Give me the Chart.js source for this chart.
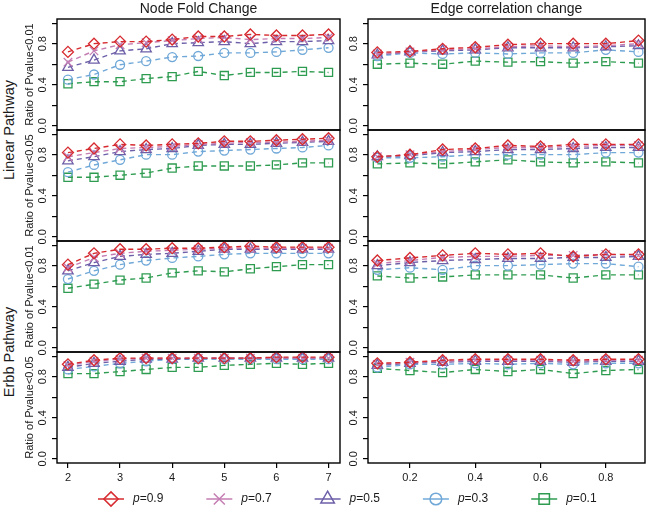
<!DOCTYPE html>
<html>
<head>
<meta charset="utf-8">
<script src="https://cdn.jsdelivr.net/npm/chart.js@4/dist/chart.umd.min.js"></script>
<style>
  body { margin: 0; background: #fff; }
  #wrap { position: relative; width: 650px; height: 508px; overflow: hidden;
          font-family: "Liberation Sans", Arial, sans-serif; color: #1a1a1a; }
  #wrap canvas { position: absolute; }
  .lbl { position: absolute; white-space: nowrap; line-height: 1; transform: translate(-50%, -50%); }
  .rot { transform: translate(-50%, -50%) rotate(-90deg); }
</style>
</head>
<body>
<div id="wrap"></div>
<script>
// x positions
const foldX = [2, 2.5, 3, 3.5, 4, 4.5, 5, 5.5, 6, 6.5, 7];
const corrX = [0.1, 0.2, 0.3, 0.4, 0.5, 0.6, 0.7, 0.8, 0.9];

// series names (p = 0.9, 0.7, 0.5, 0.3, 0.1)
const seriesNames = ['p=0.9', 'p=0.7', 'p=0.5', 'p=0.3', 'p=0.1'];

// tick labels
const foldTicks = [2, 3, 4, 5, 6, 7];
const foldTickLabels = ['2', '3', '4', '5', '6', '7'];
const corrTicks = [0.2, 0.4, 0.6, 0.8];
const corrTickLabels = ['0.2', '0.4', '0.6', '0.8'];
const yTicks = [0, 0.2, 0.4, 0.6, 0.8, 1.0];
const yTickLabels = ['0.0', '', '0.4', '', '0.8', ''];

const colTitles = ['Node Fold Change', 'Edge correlation change'];
const groupLabels = ['Linear Pathway', 'Erbb Pathway'];
const rowYLabels = ['Ratio of Pvalue<0.01', 'Ratio of Pvalue<0.05', 'Ratio of Pvalue<0.01', 'Ratio of Pvalue<0.05'];

// Linear pathway, Pvalue<0.01
const linearNode01 = [
  [0.72, 0.80, 0.82, 0.82, 0.84, 0.87, 0.87, 0.89, 0.88, 0.88, 0.89],
  [0.62, 0.73, 0.79, 0.81, 0.83, 0.85, 0.86, 0.84, 0.85, 0.85, 0.86],
  [0.57, 0.64, 0.73, 0.75, 0.80, 0.81, 0.82, 0.80, 0.82, 0.82, 0.83],
  [0.45, 0.50, 0.595, 0.63, 0.67, 0.68, 0.71, 0.71, 0.72, 0.74, 0.76],
  [0.41, 0.43, 0.43, 0.46, 0.48, 0.53, 0.49, 0.52, 0.52, 0.53, 0.52]
];
const linearEdge01 = [
  [0.715, 0.725, 0.75, 0.765, 0.79, 0.80, 0.80, 0.80, 0.83],
  [0.70, 0.72, 0.74, 0.75, 0.77, 0.78, 0.77, 0.78, 0.80],
  [0.69, 0.72, 0.73, 0.74, 0.76, 0.76, 0.76, 0.77, 0.78],
  [0.68, 0.71, 0.70, 0.71, 0.70, 0.71, 0.71, 0.74, 0.72],
  [0.60, 0.61, 0.60, 0.63, 0.62, 0.625, 0.61, 0.625, 0.61]
];
// Linear pathway, Pvalue<0.05
const linearNode05 = [
  [0.82, 0.86, 0.90, 0.89, 0.90, 0.91, 0.93, 0.93, 0.94, 0.95, 0.96],
  [0.78, 0.82, 0.86, 0.87, 0.88, 0.90, 0.91, 0.92, 0.92, 0.93, 0.94],
  [0.74, 0.78, 0.83, 0.85, 0.86, 0.89, 0.90, 0.90, 0.91, 0.92, 0.93],
  [0.63, 0.70, 0.75, 0.80, 0.80, 0.83, 0.84, 0.85, 0.86, 0.87, 0.89],
  [0.58, 0.58, 0.60, 0.62, 0.67, 0.69, 0.69, 0.69, 0.70, 0.72, 0.72]
];
const linearEdge05 = [
  [0.78, 0.80, 0.85, 0.86, 0.89, 0.88, 0.90, 0.90, 0.90],
  [0.78, 0.80, 0.83, 0.85, 0.87, 0.87, 0.88, 0.89, 0.89],
  [0.78, 0.79, 0.82, 0.83, 0.85, 0.85, 0.86, 0.87, 0.87],
  [0.77, 0.77, 0.78, 0.80, 0.80, 0.80, 0.80, 0.82, 0.82],
  [0.71, 0.72, 0.71, 0.73, 0.75, 0.73, 0.72, 0.73, 0.72]
];
// Erbb pathway, Pvalue<0.01
const erbbNode01 = [
  [0.81, 0.92, 0.96, 0.96, 0.97, 0.97, 0.98, 0.99, 0.98, 0.98, 0.98],
  [0.78, 0.88, 0.92, 0.94, 0.95, 0.96, 0.97, 0.97, 0.97, 0.97, 0.97],
  [0.75, 0.83, 0.89, 0.91, 0.92, 0.94, 0.96, 0.96, 0.96, 0.96, 0.96],
  [0.67, 0.75, 0.81, 0.85, 0.875, 0.89, 0.91, 0.92, 0.92, 0.92, 0.92],
  [0.58, 0.62, 0.66, 0.68, 0.73, 0.75, 0.74, 0.77, 0.79, 0.81, 0.81]
];
const erbbEdge01 = [
  [0.85, 0.875, 0.90, 0.92, 0.91, 0.92, 0.89, 0.91, 0.91],
  [0.82, 0.85, 0.88, 0.89, 0.89, 0.90, 0.90, 0.91, 0.90],
  [0.80, 0.83, 0.85, 0.86, 0.87, 0.87, 0.88, 0.88, 0.89],
  [0.76, 0.78, 0.76, 0.80, 0.80, 0.81, 0.82, 0.82, 0.79],
  [0.70, 0.68, 0.69, 0.71, 0.71, 0.71, 0.68, 0.71, 0.71]
];
// Erbb pathway, Pvalue<0.05
const erbbNode05 = [
  [0.92, 0.96, 0.98, 0.98, 0.98, 0.98, 0.98, 0.98, 0.99, 0.99, 0.99],
  [0.91, 0.95, 0.97, 0.98, 0.98, 0.98, 0.98, 0.98, 0.98, 0.98, 0.98],
  [0.89, 0.93, 0.95, 0.97, 0.97, 0.98, 0.98, 0.98, 0.98, 0.98, 0.98],
  [0.87, 0.90, 0.93, 0.95, 0.97, 0.97, 0.97, 0.97, 0.97, 0.97, 0.97],
  [0.83, 0.83, 0.85, 0.87, 0.89, 0.89, 0.91, 0.92, 0.93, 0.92, 0.93]
];
const erbbEdge05 = [
  [0.93, 0.94, 0.96, 0.97, 0.97, 0.97, 0.96, 0.97, 0.97],
  [0.92, 0.94, 0.95, 0.96, 0.96, 0.96, 0.95, 0.96, 0.96],
  [0.91, 0.93, 0.94, 0.95, 0.95, 0.95, 0.94, 0.95, 0.95],
  [0.89, 0.92, 0.92, 0.93, 0.92, 0.93, 0.92, 0.93, 0.93],
  [0.88, 0.86, 0.84, 0.87, 0.85, 0.87, 0.83, 0.86, 0.87]
];

// styles
const seriesColors = ['#d62a2f', '#c47db3', '#6d5fa8', '#70a8d8', '#2e9c50'];
const seriesMarkers = ['rectRot', 'crossRot', 'triangle', 'circle', 'rect'];
const markerSizes = [5.5, 6, 6, 4.5, 5.7];

// layout (px)
const COLS = [{ left: 57, right: 340, min: 1.79, max: 7.22 },
              { left: 368, right: 645, min: 0.0714, max: 0.92 }];
const ROW_TOPS = [19, 130, 241, 352];
const ROW_H = 111;
const AXIS_W = 34;
const X_AXIS_H = 26;
const PAD = 8;
const FONT = '"Liberation Sans", Arial, sans-serif';

const wrap = document.getElementById('wrap');

// box round each panel
const boxPlugin = {
  id: 'panelBox',
  afterDraw(chart) {
    const a = chart.chartArea, ctx = chart.ctx;
    ctx.save();
    ctx.strokeStyle = '#000';
    ctx.lineWidth = 1.4;
    ctx.strokeRect(a.left, a.top, a.right - a.left, a.bottom - a.top);
    ctx.restore();
  }
};

// rotated y tick labels, placed with the y scale
const yLabelPlugin = {
  id: 'yTickLabels',
  afterDraw(chart) {
    const s = chart.scales.y, ctx = chart.ctx;
    ctx.save();
    ctx.fillStyle = '#1a1a1a';
    ctx.font = '11px ' + FONT;
    ctx.textAlign = 'center';
    ctx.textBaseline = 'middle';
    yTicks.forEach((v, i) => {
      if (!yTickLabels[i]) return;
      ctx.save();
      ctx.translate(s.right - 14, s.getPixelForValue(v));
      ctx.rotate(-Math.PI / 2);
      ctx.fillText(yTickLabels[i], 0, 0);
      ctx.restore();
    });
    ctx.restore();
  }
};

function makeDatasets(xs, values) {
  return values.map((vals, i) => ({
    label: seriesNames[i],
    data: xs.map((x, j) => ({ x: x, y: vals[j] })),
    borderColor: seriesColors[i],
    backgroundColor: 'rgba(0,0,0,0)',
    borderWidth: 1.4,
    borderDash: [5, 4],
    pointStyle: seriesMarkers[i],
    pointRadius: markerSizes[i],
    pointBorderWidth: 1.3,
    pointBorderColor: seriesColors[i],
    pointBackgroundColor: 'rgba(0,0,0,0)',
    tension: 0,
    fill: false,
    clip: false
  }));
}

function makePanel(row, col, values) {
  const c = COLS[col];
  const bottomRow = row === 3;
  const xs = col === 0 ? foldX : corrX;
  const ticks = col === 0 ? foldTicks : corrTicks;
  const tickLabels = col === 0 ? foldTickLabels : corrTickLabels;

  const canvas = document.createElement('canvas');
  canvas.width = AXIS_W + (c.right - c.left) + PAD;
  canvas.height = PAD + ROW_H + (bottomRow ? X_AXIS_H : 0) + PAD;
  canvas.style.left = (c.left - AXIS_W) + 'px';
  canvas.style.top = (ROW_TOPS[row] - PAD) + 'px';
  wrap.appendChild(canvas);

  new Chart(canvas, {
    type: 'line',
    data: { datasets: makeDatasets(xs, values) },
    options: {
      responsive: false,
      animation: false,
      events: [],
      layout: { padding: { left: 0, top: PAD, right: PAD, bottom: PAD } },
      plugins: { legend: { display: false }, tooltip: { enabled: false } },
      scales: {
        x: {
          type: 'linear',
          min: c.min,
          max: c.max,
          display: bottomRow,
          position: 'bottom',
          afterBuildTicks: s => { s.ticks = ticks.map(v => ({ value: v })); },
          afterFit: s => { s.height = bottomRow ? X_AXIS_H : 0; },
          grid: { drawOnChartArea: false, drawTicks: true, tickLength: 5, color: '#000', lineWidth: 1.2 },
          border: { display: false },
          ticks: {
            color: '#1a1a1a', font: { size: 11, family: FONT }, padding: 3,
            maxRotation: 0, autoSkip: false,
            callback: (v, i) => tickLabels[i]
          }
        },
        y: {
          type: 'linear',
          min: -0.04,
          max: 1.04,
          afterBuildTicks: s => { s.ticks = yTicks.map(v => ({ value: v })); },
          afterFit: s => { s.width = AXIS_W; },
          grid: { drawOnChartArea: false, drawTicks: true, tickLength: 5, color: '#000', lineWidth: 1.2 },
          border: { display: false },
          ticks: { display: false },
          title: {
            display: col === 0,
            text: rowYLabels[row],
            color: '#1a1a1a',
            font: { size: 11, family: FONT },
            padding: 0
          }
        }
      }
    },
    plugins: [boxPlugin, yLabelPlugin]
  });
}

makePanel(0, 0, linearNode01);
makePanel(0, 1, linearEdge01);
makePanel(1, 0, linearNode05);
makePanel(1, 1, linearEdge05);
makePanel(2, 0, erbbNode01);
makePanel(2, 1, erbbEdge01);
makePanel(3, 0, erbbNode05);
makePanel(3, 1, erbbEdge05);

// legend
const LEGEND_X0 = 111;
const LEGEND_STEP = 108.3;
const LEGEND_Y = 13;
const legendPlugin = {
  id: 'pLegend',
  afterDraw(chart) {
    const ctx = chart.ctx;
    chart.data.datasets.forEach((ds, i) => {
      const cx = LEGEND_X0 + i * LEGEND_STEP, cy = LEGEND_Y;
      ctx.save();
      ctx.strokeStyle = ds.borderColor;
      ctx.lineWidth = 1.5;
      ctx.beginPath();
      ctx.moveTo(cx - 13, cy);
      ctx.lineTo(cx + 13, cy);
      ctx.stroke();
      ctx.fillStyle = 'rgba(0,0,0,0)';
      Chart.helpers.drawPoint(ctx, {
        pointStyle: ds.pointStyle, radius: ds.pointRadius * 1.3,
        borderWidth: 1.5, rotation: 0
      }, cx, cy);
      ctx.fillStyle = '#1a1a1a';
      ctx.textBaseline = 'middle';
      ctx.textAlign = 'left';
      ctx.font = 'italic 12px ' + FONT;
      const tx = cx + 22;
      ctx.fillText('p', tx, cy);
      const pw = ctx.measureText('p').width;
      ctx.font = '12px ' + FONT;
      ctx.fillText(ds.label.slice(1), tx + pw, cy);
      ctx.restore();
    });
  }
};

const legendCanvas = document.createElement('canvas');
legendCanvas.width = 650;
legendCanvas.height = 22;
legendCanvas.style.left = '0px';
legendCanvas.style.top = '486px';
wrap.appendChild(legendCanvas);
new Chart(legendCanvas, {
  type: 'line',
  data: {
    datasets: seriesNames.map((name, i) => ({
      label: name, data: [], borderColor: seriesColors[i],
      pointStyle: seriesMarkers[i], pointRadius: markerSizes[i]
    }))
  },
  options: {
    responsive: false, animation: false, events: [],
    plugins: { legend: { display: false }, tooltip: { enabled: false } },
    scales: { x: { display: false }, y: { display: false } }
  },
  plugins: [legendPlugin]
});

// titles and group labels
function addLabel(text, x, y, size, rotated) {
  const d = document.createElement('div');
  d.className = 'lbl' + (rotated ? ' rot' : '');
  d.textContent = text;
  d.style.left = x + 'px';
  d.style.top = y + 'px';
  d.style.fontSize = size + 'px';
  wrap.appendChild(d);
}
addLabel(colTitles[0], (COLS[0].left + COLS[0].right) / 2, 8, 14);
addLabel(colTitles[1], (COLS[1].left + COLS[1].right) / 2, 8, 14);
addLabel(groupLabels[0], 9, (ROW_TOPS[0] + ROW_TOPS[1] + ROW_H) / 2, 14.5, true);
addLabel(groupLabels[1], 9, (ROW_TOPS[2] + ROW_TOPS[3] + ROW_H) / 2, 14.5, true);
</script>
</body>
</html>
